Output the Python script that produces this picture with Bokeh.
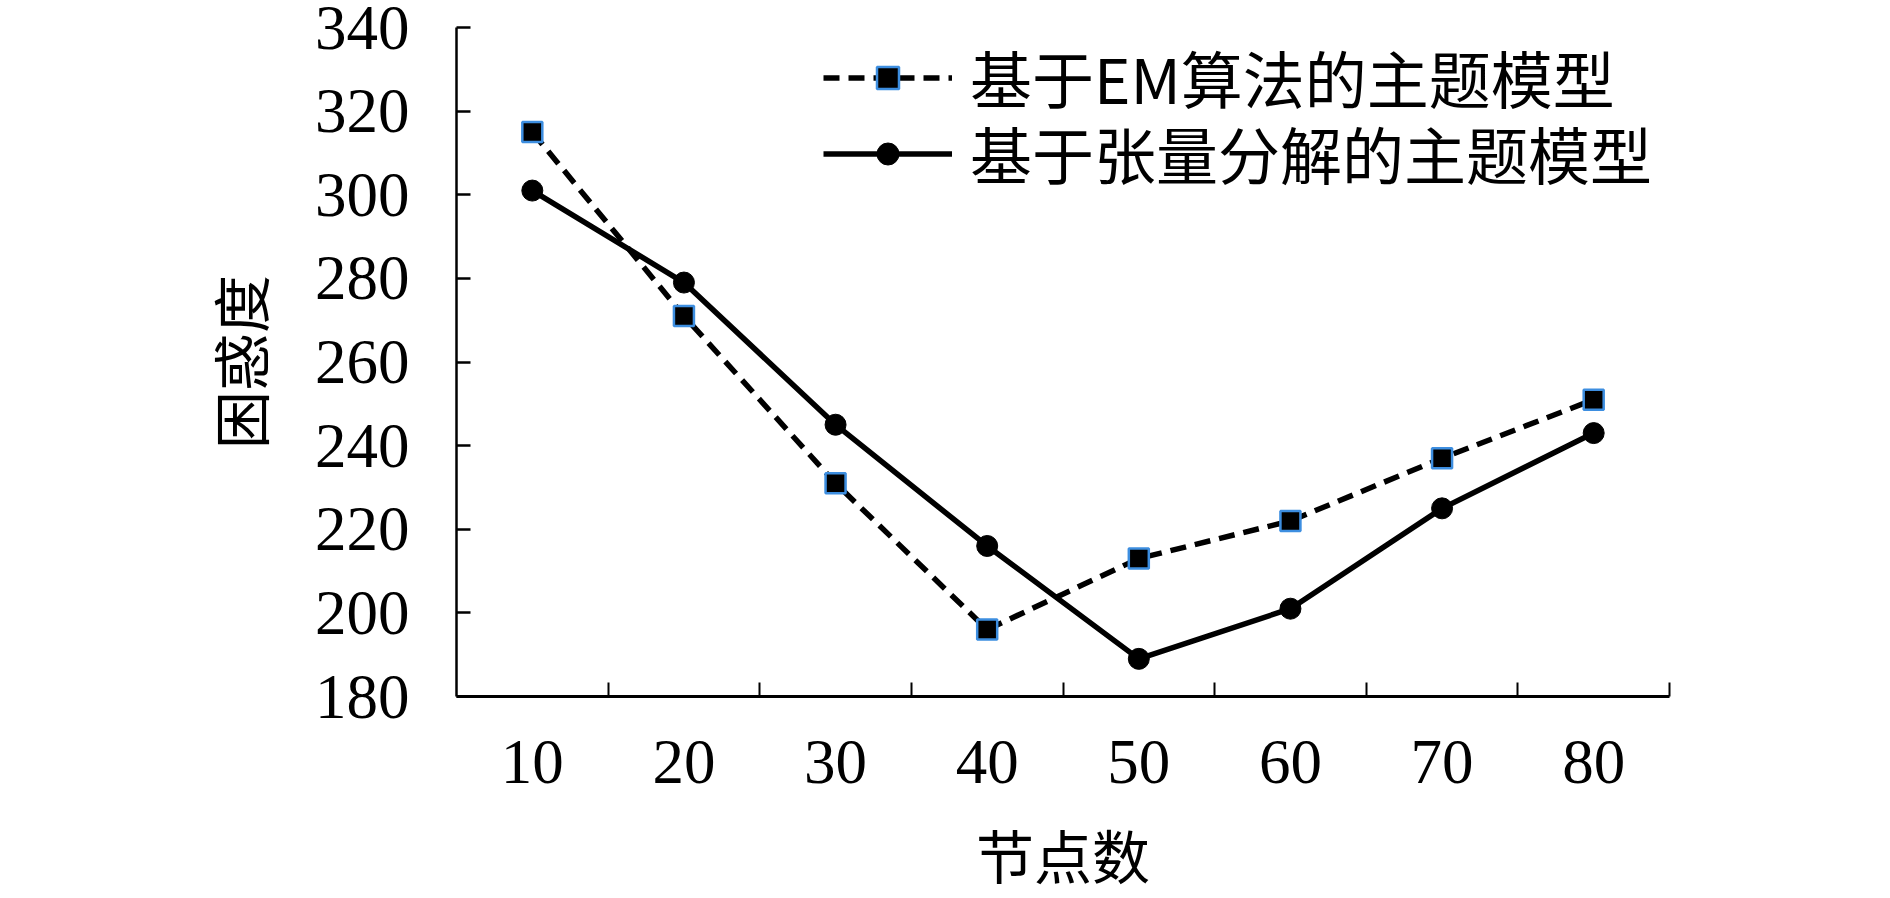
from bokeh.plotting import figure
from bokeh.models import Range1d, FixedTicker, Legend, LegendItem
from bokeh.embed import file_html
from bokeh.resources import INLINE

# ---- data ----
topics = [10, 20, 30, 40, 50, 60, 70, 80]
em_perplexity = [315, 271, 231, 196, 213, 222, 237, 251]
tensor_perplexity = [301, 279, 245, 216, 189, 201, 225, 243]
y_ticks = [180, 200, 220, 240, 260, 280, 300, 320, 340]
x_boundaries = [15, 25, 35, 45, 55, 65, 75, 85]
em_label = "基于EM算法的主题模型"
tensor_label = "基于张量分解的主题模型"
x_title = "节点数"
y_title = "困惑度"

CJK = "Noto Sans CJK SC"
SERIF = "Liberation Serif"

p = figure(width=1870, height=898, output_backend="svg", toolbar_location=None,
           x_range=Range1d(5, 85), y_range=Range1d(180, 340),
           min_border_left=456, min_border_right=201,
           min_border_top=27, min_border_bottom=201)
p.outline_line_color = None
p.background_fill_color = "white"
p.border_fill_color = "white"
p.xgrid.visible = False
p.ygrid.visible = False

# y axis
ya = p.yaxis[0]
ya.ticker = FixedTicker(ticks=y_ticks)
ya.major_tick_in = 14
ya.major_tick_out = 0
ya.minor_tick_line_color = None
ya.axis_line_width = 2.5
ya.major_tick_line_width = 2.5
ya.axis_line_color = "black"
ya.major_tick_line_color = "black"
ya.major_label_text_font = SERIF
ya.major_label_text_font_size = "63px"
ya.major_label_text_color = "black"
ya.major_label_standoff = 47
ya.axis_label = y_title
ya.axis_label_text_font = CJK
ya.axis_label_text_font_size = "58px"
ya.axis_label_text_font_style = "normal"
ya.axis_label_text_color = "black"
ya.axis_label_standoff = 31

# x axis
xa = p.xaxis[0]
xa.ticker = FixedTicker(ticks=topics, minor_ticks=x_boundaries)
xa.major_tick_in = 0
xa.major_tick_out = 0
xa.minor_tick_in = 14
xa.minor_tick_out = 0
xa.minor_tick_line_width = 2
xa.minor_tick_line_color = "black"
xa.axis_line_width = 3
xa.axis_line_color = "black"
xa.major_label_text_font = SERIF
xa.major_label_text_font_size = "63px"
xa.major_label_text_color = "black"
xa.major_label_standoff = 44
xa.axis_label = x_title
xa.axis_label_text_font = CJK
xa.axis_label_text_font_size = "58px"
xa.axis_label_text_font_style = "normal"
xa.axis_label_text_color = "black"
xa.axis_label_standoff = 26

# series
em_line = p.line(topics, em_perplexity, line_color="black", line_width=5.5, line_dash="16 9")
em_pts = p.scatter(topics, em_perplexity, marker="square", size=20,
                   fill_color="black", line_color="#3d8ee0", line_width=2.5)
tn_line = p.line(topics, tensor_perplexity, line_color="black", line_width=5.5)
tn_pts = p.scatter(topics, tensor_perplexity, marker="circle", size=21,
                   fill_color="black", line_color="black")

legend_style = dict(orientation="vertical", border_line_color=None, background_fill_alpha=0,
                    padding=0, margin=0, spacing=0,
                    glyph_width=129, glyph_height=55, label_height=100,
                    label_standoff=18,
                    label_text_font=CJK, label_text_font_size="62px",
                    label_text_color="black")
legend_em = Legend(items=[LegendItem(label=em_label, renderers=[em_line, em_pts])],
                   location=(367, 569), **legend_style)
legend_tn = Legend(items=[LegendItem(label=tensor_label, renderers=[tn_line, tn_pts])],
                   location=(367, 493), **legend_style)
p.add_layout(legend_em, "center")
p.add_layout(legend_tn, "center")

open("out.html", "w").write(file_html(p, INLINE))
